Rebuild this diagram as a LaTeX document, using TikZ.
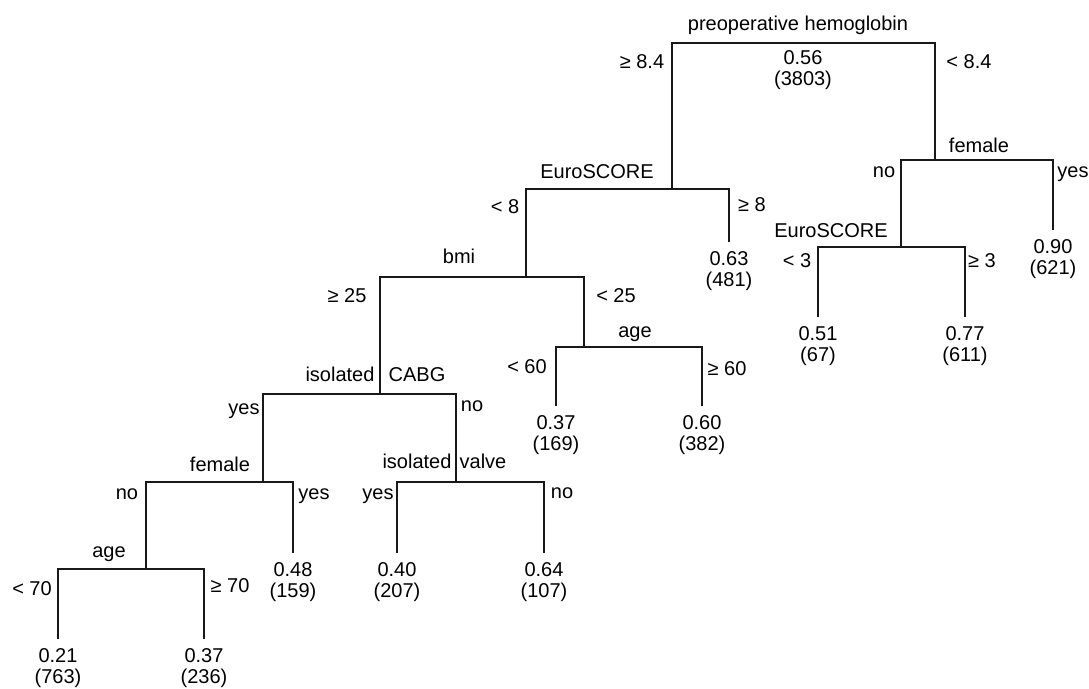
\documentclass[tikz,border=0pt]{standalone}
\usepackage{fontspec}
\setmainfont{Liberation Sans}
\usetikzlibrary{positioning}
\newcommand{\lblsize}{\fontsize{20}{21.5}\selectfont}
\tikzset{
  branch/.style={line width=2.3pt, black!90},
  lbl/.style={font=\lblsize, inner sep=0pt, text height=14pt, text depth=4pt},
  leaf/.style={font=\lblsize, align=center, inner sep=2pt},
}

\begin{document}
\begin{tikzpicture}[x=1pt, y=-1pt, node distance=7pt]
\useasboundingbox (0,0) rectangle (1089,688);
% split points
\coordinate (hb) at (803,43);
\coordinate (es1) at (672,189);
\coordinate (fem1) at (935,160);
\coordinate (es2) at (901,247);
\coordinate (bmi) at (526,277);
\coordinate (age1) at (584,347);
\coordinate (cabg) at (380,394);
\coordinate (fem2) at (263,482);
\coordinate (valve) at (456,482);
\coordinate (age2) at (146,569);
% leaf tops
\coordinate (l63) at (729,242);
\coordinate (l90) at (1053,230);
\coordinate (l51) at (818,317);
\coordinate (l77) at (965,317);
\coordinate (l37a) at (556,406);
\coordinate (l60) at (702,406);
\coordinate (l48) at (293,553);
\coordinate (l40) at (397,553);
\coordinate (l64) at (544,553);
\coordinate (l21) at (58,639);
\coordinate (l37b) at (204,639);

% branches
\draw[branch] (es1) |- (hb) -| (fem1);
\draw[branch] (bmi) |- (es1) -| (l63);
\draw[branch] (es2) |- (fem1) -| (l90);
\draw[branch] (l51) |- (es2) -| (l77);
\draw[branch] (cabg) |- (bmi) -| (age1);
\draw[branch] (l37a) |- (age1) -| (l60);
\draw[branch] (fem2) |- (cabg) -| (valve);
\draw[branch] (age2) |- (fem2) -| (l48);
\draw[branch] (l40) |- (valve) -| (l64);
\draw[branch] (l21) |- (age2) -| (l37b);

% split names and cut points
\node[lbl] (hbname) at (798,25) {preoperative hemoglobin};
\node[lbl] (hbleft) at (642,63) {≥ 8.4};
\node[lbl] (hbright) at (969,63) {< 8.4};
\node[lbl] (es1name) at (597,173) {EuroSCORE};
\node[lbl] (es1left) at (505,208) {< 8};
\node[lbl] (es1right) at (752,206) {≥ 8};
\node[lbl] (fem1name) at (979,147) {female};
\node[lbl] (fem1left) at (884,172) {no};
\node[lbl] (fem1right) at (1073,172) {yes};
\node[lbl] (es2name) at (831,232) {EuroSCORE};
\node[lbl] (es2left) at (797,262) {< 3};
\node[lbl] (es2right) at (982,262) {≥ 3};
\node[lbl] (bminame) at (459,258) {bmi};
\node[lbl] (bmileft) at (347,297) {≥ 25};
\node[lbl] (bmiright) at (616,297) {< 25};
\node[lbl] (age1name) at (635,332) {age};
\node[lbl] (age1left) at (527,368) {< 60};
\node[lbl] (age1right) at (727,370) {≥ 60};
\node[lbl] (cabgname) at (340,376) {isolated};
\node[lbl] (cabgname2) at (417,376) {CABG};
\node[lbl] (cabgleft) at (244,409) {yes};
\node[lbl] (cabgright) at (472,406) {no};
\node[lbl] (fem2name) at (220,466) {female};
\node[lbl] (fem2left) at (127,494) {no};
\node[lbl] (fem2right) at (314,494) {yes};
\node[lbl] (valvename) at (417,463) {isolated};
\node[lbl] (valvename2) at (483,463) {valve};
\node[lbl] (valveleft) at (378,494) {yes};
\node[lbl] (valveright) at (562,493) {no};
\node[lbl] (age2name) at (109,552) {age};
\node[lbl] (age2left) at (32,590) {< 70};
\node[lbl] (age2right) at (230,587) {≥ 70};

% node rates and counts
\node[leaf, below=5pt of hb] (hbstat) {0.56\\(3803)};
\node[leaf, below=of l63] (n63) {0.63\\(481)};
\node[leaf, below=of l90] (n90) {0.90\\(621)};
\node[leaf, below=of l51] (n51) {0.51\\(67)};
\node[leaf, below=of l77] (n77) {0.77\\(611)};
\node[leaf, below=of l37a] (n37a) {0.37\\(169)};
\node[leaf, below=of l60] (n60) {0.60\\(382)};
\node[leaf, below=of l48] (n48) {0.48\\(159)};
\node[leaf, below=of l40] (n40) {0.40\\(207)};
\node[leaf, below=of l64] (n64) {0.64\\(107)};
\node[leaf, below=of l21] (n21) {0.21\\(763)};
\node[leaf, below=of l37b] (n37b) {0.37\\(236)};
\end{tikzpicture}
\end{document}
